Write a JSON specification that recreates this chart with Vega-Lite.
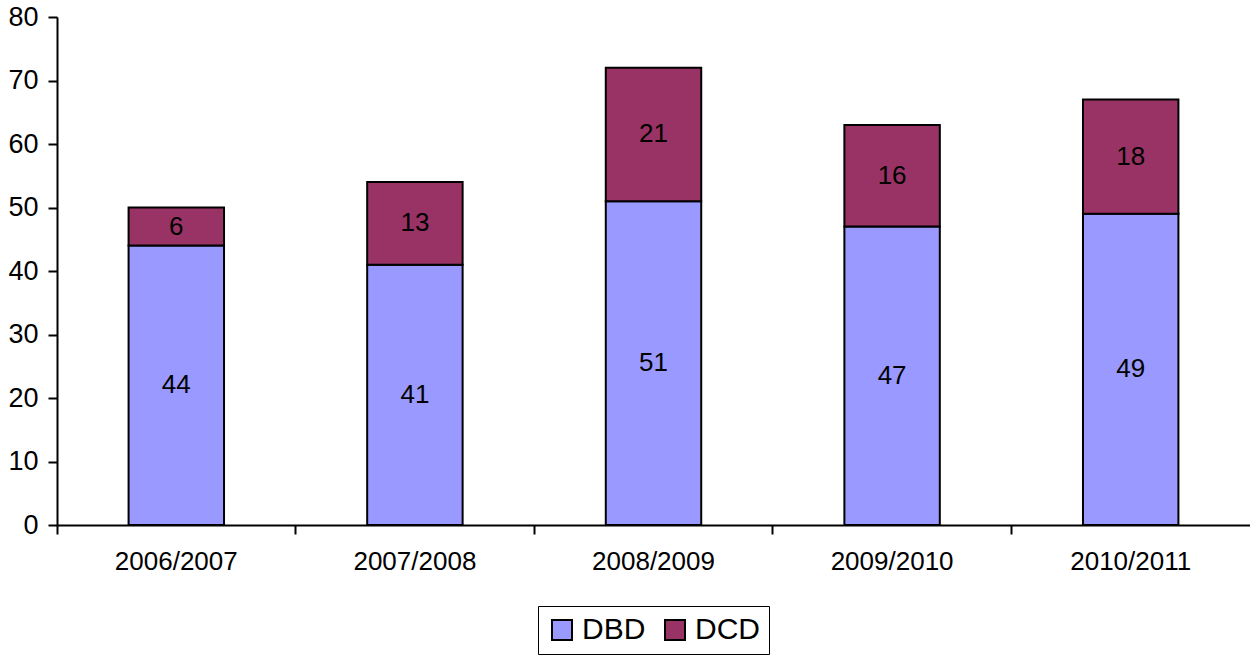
{
  "$schema": "https://vega.github.io/schema/vega-lite/v6.json",
  "width": 1193,
  "height": 508,
  "autosize": {"type": "none"},
  "padding": {"left": 57, "top": 17, "right": 0, "bottom": 134},
  "background": "white",
  "config": {
    "font": "Liberation Sans",
    "view": {"stroke": null},
    "axis": {"labelFont": "Liberation Sans", "labelColor": "black", "domainColor": "black", "tickColor": "black", "domainWidth": 2, "tickWidth": 2, "grid": false, "title": null}
  },
  "data": {
    "values": [
      {"season": "2006/2007", "type": "DBD", "value": 44},
      {"season": "2006/2007", "type": "DCD", "value": 6},
      {"season": "2007/2008", "type": "DBD", "value": 41},
      {"season": "2007/2008", "type": "DCD", "value": 13},
      {"season": "2008/2009", "type": "DBD", "value": 51},
      {"season": "2008/2009", "type": "DCD", "value": 21},
      {"season": "2009/2010", "type": "DBD", "value": 47},
      {"season": "2009/2010", "type": "DCD", "value": 16},
      {"season": "2010/2011", "type": "DBD", "value": 49},
      {"season": "2010/2011", "type": "DCD", "value": 18}
    ]
  },
  "transform": [
    {"stack": "value", "groupby": ["season"], "sort": [{"field": "type", "order": "ascending"}], "as": ["y0", "y1"]},
    {"calculate": "(datum.y0 + datum.y1) / 2", "as": "mid"}
  ],
  "encoding": {
    "x": {
      "field": "season", "type": "nominal",
      "scale": {"paddingInner": 0, "paddingOuter": 0},
      "axis": {"labelAngle": 0, "labelFontSize": 26, "bandPosition": 0, "tickSize": 9, "labelPadding": 14, "domainWidth": 2}
    }
  },
  "layer": [
    {
      "mark": {"type": "bar", "width": {"band": 0.4}, "stroke": "black", "strokeWidth": 2},
      "encoding": {
        "y": {"field": "y0", "type": "quantitative", "scale": {"domain": [0, 80], "nice": false},
          "axis": {"values": [0, 10, 20, 30, 40, 50, 60, 70, 80], "labelFontSize": 27, "tickSize": 9, "labelPadding": 10}},
        "y2": {"field": "y1"},
        "color": {
          "field": "type", "type": "nominal",
          "scale": {"domain": ["DBD", "DCD"], "range": ["#9999FF", "#993366"]},
          "legend": {
            "title": null, "orient": "none", "legendX": 481, "legendY": 589, "direction": "horizontal",
            "strokeColor": "black", "padding": 9, "fillColor": "white",
            "symbolType": "square", "symbolSize": 400, "symbolStrokeColor": "black", "symbolStrokeWidth": 2,
            "labelFontSize": 30, "labelColor": "black", "labelFont": "Liberation Sans", "columnPadding": 14, "labelOffset": 5
          }
        }
      }
    },
    {
      "mark": {"type": "text", "fontSize": 26, "color": "black", "font": "Liberation Sans"},
      "encoding": {
        "y": {"field": "mid", "type": "quantitative"},
        "text": {"field": "value", "type": "quantitative"}
      }
    }
  ]
}
